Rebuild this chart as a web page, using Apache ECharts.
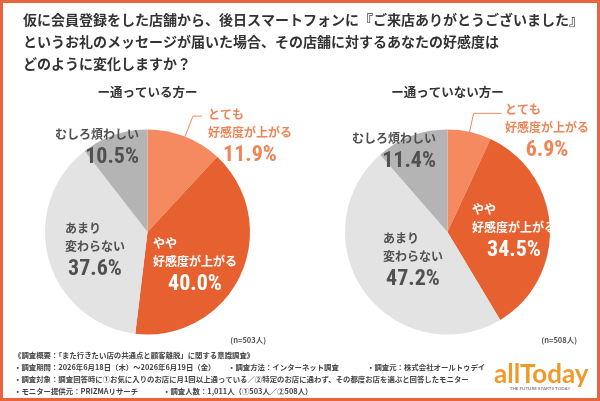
<!DOCTYPE html>
<html><head><meta charset="utf-8">
<script src="https://cdn.jsdelivr.net/npm/echarts@6/dist/echarts.min.js"></script>
<style>html,body{margin:0;padding:0;background:#fff}#c{width:600px;height:401px}</style>
</head><body><div id="c"></div>
<script>
// ---- data ----
const titleLines = [
  '仮に会員登録をした店舗から、後日スマートフォンに『ご来店ありがとうございました』',
  'というお礼のメッセージが届いた場合、その店舗に対するあなたの好感度は',
  'どのように変化しますか？'
];
const groupNames = ['ー通っている方ー', 'ー通っていない方ー'];
const categories = ['とても\n好感度が上がる', 'やや\n好感度が上がる', 'あまり\n変わらない', 'むしろ煩わしい'];
const valuesRegular = [11.9, 40.0, 37.6, 10.5];
const valuesNonRegular = [6.9, 34.5, 47.2, 11.4];
const sampleNotes = ['(n=503人)', '(n=508人)'];
const footerLine1 = ['《調査概要：「また行きたい店の共通点と顧客離脱」に関する意識調査》'];
const footerLine2 = ['・調査期間：2026年6月18日（木）～2026年6月19日（金）', '・調査方法：インターネット調査', '・調査元：株式会社オールトゥデイ'];
const footerLine3 = ['・調査対象：調査回答時に①お気に入りのお店に月1回以上通っている／②特定のお店に通わず、その都度お店を選ぶと回答したモニター'];
const footerLine4 = ['・モニター提供元：PRIZMAリサーチ', '・調査人数：1,011人（①503人／②508人）'];
const logoText = 'allToday';
const logoTagline = 'THE FUTURE STARTS TODAY';

// ---- style ----
const CJK = '"Noto Sans CJK JP", "Noto Sans JP", sans-serif';
const NUM = '"Liberation Sans Narrow", "Roboto Condensed", Roboto, sans-serif';
const sliceColors = ['#f58a60', '#e6612f', '#e3e3e3', '#b4b4b4'];
const labelColors = ['#ef8658', '#ffffff', '#505050', '#505050'];
const pctAlign = ['center', 'center', 'center', 'right'];
const pieLayout = [{cx: 147.5, cy: 232}, {cx: 447.5, cy: 232}];
const pieRadius = 102.5;
const labelAnchors = [
  [[208, 105], [153, 234], [65, 219], [55, 125]],
  [[505, 100], [472, 200], [383, 229], [352, 129]]
];
const leaderLines = [{length: 22, length2: 9}, {length: 19, length2: 28}];
const footerX2 = [14, 228, 367];
const footerX4 = [14, 163];
const footerY = [355, 367, 379, 391];

const rich = {};
for (let i = 0; i < 4; i++) {
  rich['t' + i] = {fontSize: 12, fontWeight: 'bold', lineHeight: 18, color: labelColors[i], fontFamily: CJK, align: 'left'};
  rich['p' + i] = {fontSize: 22, fontWeight: 'bold', lineHeight: 28, color: labelColors[i], fontFamily: NUM, align: pctAlign[i]};
}
function fmt(p) {
  const i = p.dataIndex;
  return p.name.split('\n').map(l => '{t' + i + '|' + l + '}').join('\n') +
    '\n{p' + i + '|' + Number(p.value).toFixed(1) + '%}';
}

const seriesValues = [valuesRegular, valuesNonRegular];
const series = seriesValues.map((vals, s) => ({
  type: 'pie',
  center: [pieLayout[s].cx, pieLayout[s].cy],
  radius: pieRadius,
  startAngle: 90,
  clockwise: true,
  avoidLabelOverlap: false,
  silent: true,
  label: {show: true, position: 'inside', formatter: fmt, rich: rich},
  labelLine: {show: false},
  labelLayout: function (p) {
    const a = labelAnchors[s][p.dataIndex];
    return {x: a[0], y: a[1], align: 'left', verticalAlign: 'top', labelLinePoints: p.labelLinePoints};
  },
  data: vals.map((v, i) => ({
    name: categories[i],
    value: v,
    itemStyle: {color: sliceColors[i]},
    label: i === 0 ? {position: 'outside'} : {position: 'inside'},
    labelLine: i === 0
      ? {show: true, length: leaderLines[s].length, length2: leaderLines[s].length2, smooth: false, lineStyle: {color: '#f08a5e', width: 1}}
      : {show: false}
  }))
}));

const graphics = [];
titleLines.forEach((t, i) => graphics.push({
  type: 'text', x: 23, y: 20 + i * 22,
  style: {text: t, fontSize: 14, fontWeight: 'bold', fontFamily: CJK, fill: '#333', verticalAlign: 'middle', align: 'left'}
}));
groupNames.forEach((t, i) => graphics.push({
  type: 'text', x: pieLayout[i].cx, y: 92,
  style: {text: t, fontSize: 12.5, fontWeight: 'bold', fontFamily: CJK, fill: '#333', verticalAlign: 'middle', align: 'center'}
}));
[266, 577].forEach((x, i) => graphics.push({
  type: 'text', x: x, y: 340,
  style: {text: sampleNotes[i], fontSize: 7.5, fontWeight: 'bold', fontFamily: CJK, fill: '#555', verticalAlign: 'middle', align: 'right'}
}));
function footText(t, x, y) {
  graphics.push({type: 'text', x: x, y: y,
    style: {text: t, fontSize: 7.4, fontWeight: 'bold', fontFamily: CJK, fill: '#444', verticalAlign: 'middle', align: 'left'}});
}
footText(footerLine1[0], 14, footerY[0]);
footerLine2.forEach((t, i) => footText(t, footerX2[i], footerY[1]));
footText(footerLine3[0], 14, footerY[2]);
footerLine4.forEach((t, i) => footText(t, footerX4[i], footerY[3]));
graphics.push({type: 'text', x: 494, y: 375,
  style: {text: logoText, fontSize: 26, fontFamily: 'Lato, sans-serif', fontWeight: 'bold', fill: '#f09a2c', verticalAlign: 'middle', align: 'left'}});
graphics.push({type: 'text', x: 540, y: 389,
  style: {text: logoTagline, fontSize: 4.5, fontFamily: 'Lato, sans-serif', fontWeight: 'bold', fill: '#888', verticalAlign: 'middle', align: 'center'}});
graphics.push({type: 'rect', z: 100, shape: {x: 1.5, y: 1.5, width: 597, height: 398},
  style: {fill: 'none', stroke: '#e8643c', lineWidth: 3}});

const chart = echarts.init(document.getElementById('c'), null, {renderer: 'canvas'});
chart.setOption({
  backgroundColor: '#ffffff',
  animation: false,
  series: series,
  graphic: graphics
});
</script></body></html>
